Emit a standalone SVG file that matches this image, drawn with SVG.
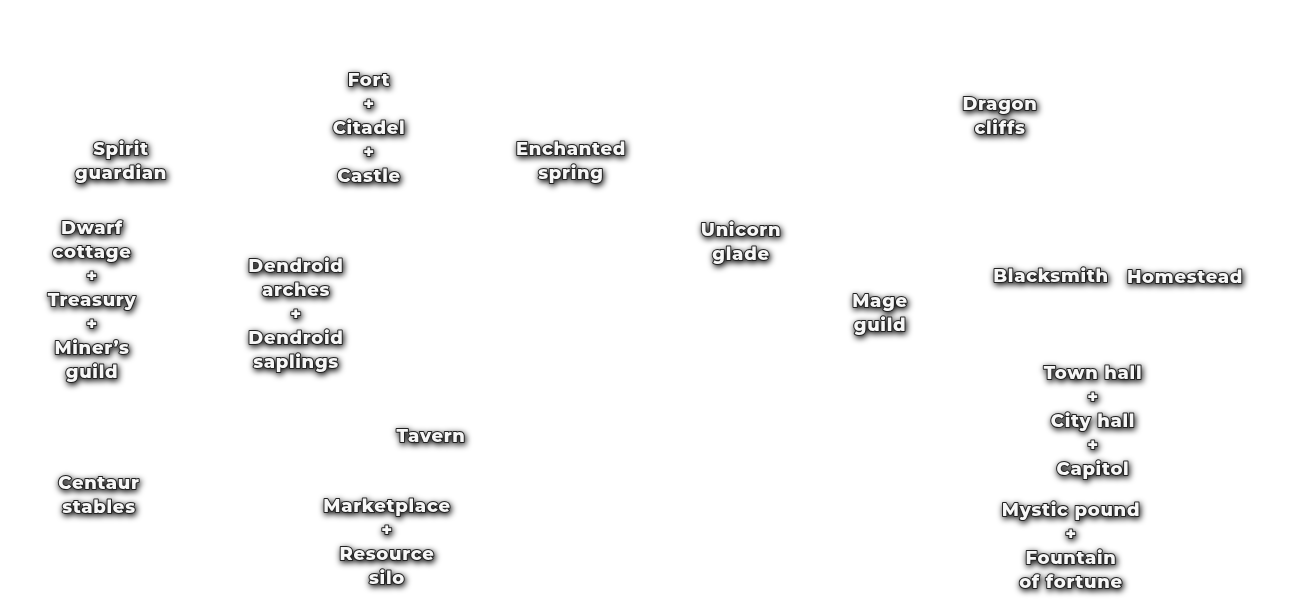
<svg xmlns="http://www.w3.org/2000/svg" width="1302" height="608" viewBox="0 0 1302 608">
<defs>
<filter id="glow" x="-30%" y="-30%" width="160%" height="160%">
<feGaussianBlur in="SourceAlpha" stdDeviation="3" result="b"/>
<feComponentTransfer in="b" result="s"><feFuncA type="linear" slope="1"/></feComponentTransfer>
<feOffset in="s" dx="0.5" dy="1.5" result="o"/>
<feMerge><feMergeNode in="o"/><feMergeNode in="SourceGraphic"/></feMerge>
</filter>
</defs>
<style>
text{font-family:"Montserrat","Open Sans","DejaVu Sans",sans-serif;font-weight:800;font-size:18px;letter-spacing:0.7px;fill:#f7f7f7;stroke:#222222;stroke-width:2px;paint-order:stroke;stroke-linejoin:round;text-anchor:middle}
.n{filter:url(#glow)}
</style>
<rect width="1302" height="608" fill="#ffffff"/>
<g id="connectors"></g>
<g id="fort" class="n"><text x="369" y="86">Fort</text><text x="369" y="110">+</text><text x="369" y="134">Citadel</text><text x="369" y="158">+</text><text x="369" y="182">Castle</text></g>
<g id="spirit-guardian" class="n"><text x="121" y="155">Spirit</text><text x="121" y="179">guardian</text></g>
<g id="enchanted-spring" class="n"><text x="571" y="155">Enchanted</text><text x="571" y="179">spring</text></g>
<g id="dragon-cliffs" class="n"><text x="1000" y="110">Dragon</text><text x="1000" y="134">cliffs</text></g>
<g id="dwarf-cottage" class="n"><text x="92" y="234">Dwarf</text><text x="92" y="258">cottage</text><text x="92" y="282">+</text><text x="92" y="306">Treasury</text><text x="92" y="330">+</text><text x="92" y="354">Miner’s</text><text x="92" y="378">guild</text></g>
<g id="dendroid-arches" class="n"><text x="296" y="272">Dendroid</text><text x="296" y="296">arches</text><text x="296" y="320">+</text><text x="296" y="344">Dendroid</text><text x="296" y="368">saplings</text></g>
<g id="unicorn-glade" class="n"><text x="741" y="236">Unicorn</text><text x="741" y="260">glade</text></g>
<g id="blacksmith" class="n"><text x="1051" y="282">Blacksmith</text></g>
<g id="homestead" class="n"><text x="1185" y="283">Homestead</text></g>
<g id="mage-guild" class="n"><text x="880" y="307">Mage</text><text x="880" y="331">guild</text></g>
<g id="town-hall" class="n"><text x="1093" y="379">Town hall</text><text x="1093" y="403">+</text><text x="1093" y="427">City hall</text><text x="1093" y="451">+</text><text x="1093" y="475">Capitol</text></g>
<g id="tavern" class="n"><text x="431" y="442">Tavern</text></g>
<g id="centaur-stables" class="n"><text x="99" y="489">Centaur</text><text x="99" y="513">stables</text></g>
<g id="marketplace" class="n"><text x="387" y="512">Marketplace</text><text x="387" y="536">+</text><text x="387" y="560">Resource</text><text x="387" y="584">silo</text></g>
<g id="mystic-pound" class="n"><text x="1071" y="516">Mystic pound</text><text x="1071" y="540">+</text><text x="1071" y="564">Fountain</text><text x="1071" y="588">of fortune</text></g>
</svg>
